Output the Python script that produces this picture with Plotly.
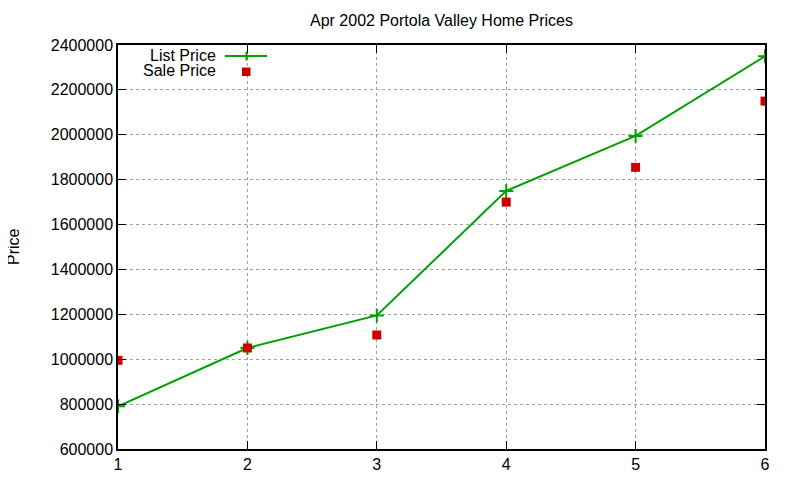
"""Apr 2002 Portola Valley home prices: list vs. sale price, gnuplot look."""

import plotly.graph_objects as go

houses = [1, 2, 3, 4, 5, 6]
list_price = [790000, 1050000, 1195000, 1750000, 1995000, 2350000]
sale_price = [995000, 1050000, 1108000, 1700000, 1855000, 2150000]
y_ticks = [600000, 800000, 1000000, 1200000, 1400000, 1600000,
           1800000, 2000000, 2200000, 2400000]

GREEN = "#00a000"
RED = "#cc0000"
FONT = "Liberation Sans, Arial, sans-serif"

# plot area in window pixels; the page body adds ~8px, so margins are
# shifted by that amount
OFF = 8
X0, X1, Y0, Y1 = 118, 765, 45, 449
PW, PH = X1 - X0, Y1 - Y0


def px(x):
    return (x - X0) / PW


def py(y):
    return (Y1 - y) / PH


fig = go.Figure()
fig.add_trace(go.Scatter(
    x=houses, y=list_price, mode="lines+markers", name="List Price",
    line=dict(color=GREEN, width=2),
    marker=dict(symbol="cross-thin", size=10, line=dict(color=GREEN, width=2)),
))
fig.add_trace(go.Scatter(
    x=houses, y=sale_price, mode="markers", name="Sale Price",
    marker=dict(symbol="square", size=9, color=RED),
))

axis_common = dict(
    showline=True, linecolor="black", linewidth=1.5, mirror="ticks",
    ticks="inside", ticklen=8, tickcolor="black", tickwidth=1,
    showgrid=True, gridcolor="#a0a0a0", griddash="dot", gridwidth=1,
    zeroline=False, tickfont=dict(size=16, color="black", family=FONT),
)
fig.update_xaxes(range=[1, 6], tickvals=houses, **axis_common)
fig.update_yaxes(range=[600000, 2400000], tickvals=y_ticks,
                 ticktext=[str(v) for v in y_ticks], **axis_common)

# gnuplot-style key: right-aligned text, sample on the right
shapes = [
    dict(type="line", xref="paper", yref="paper",
         x0=px(225), x1=px(267), y0=py(56), y1=py(56),
         line=dict(color=GREEN, width=2)),
    dict(type="line", xref="paper", yref="paper",
         x0=px(246.5), x1=px(246.5), y0=py(51.5), y1=py(60.5),
         line=dict(color=GREEN, width=2)),
    dict(type="rect", xref="paper", yref="paper",
         x0=px(242), x1=px(250.5), y0=py(67.5), y1=py(76),
         fillcolor=RED, line=dict(width=0)),
]
annotations = [
    dict(text="List Price", xref="paper", yref="paper", x=px(218), y=py(55),
         xanchor="right", yanchor="middle", showarrow=False),
    dict(text="Sale Price", xref="paper", yref="paper", x=px(218), y=py(71),
         xanchor="right", yanchor="middle", showarrow=False),
    dict(text="Price", xref="paper", yref="paper", x=px(13), y=py(247),
         xanchor="center", yanchor="middle", textangle=-90, showarrow=False,
         borderpad=0),
    dict(text="Apr 2002 Portola Valley Home Prices", xref="paper", yref="paper",
         x=0.5, y=py(21), xanchor="center", yanchor="middle", showarrow=False),
]

fig.update_layout(
    width=800, height=480,
    margin=dict(l=X0 - OFF, r=800 - X1 + OFF, t=Y0 - OFF, b=480 - Y1 + OFF),
    paper_bgcolor="white", plot_bgcolor="white",
    font=dict(family=FONT, size=16, color="black"),
    showlegend=False,
    shapes=shapes,
    annotations=annotations,
)

fig.write_html("out.html")
